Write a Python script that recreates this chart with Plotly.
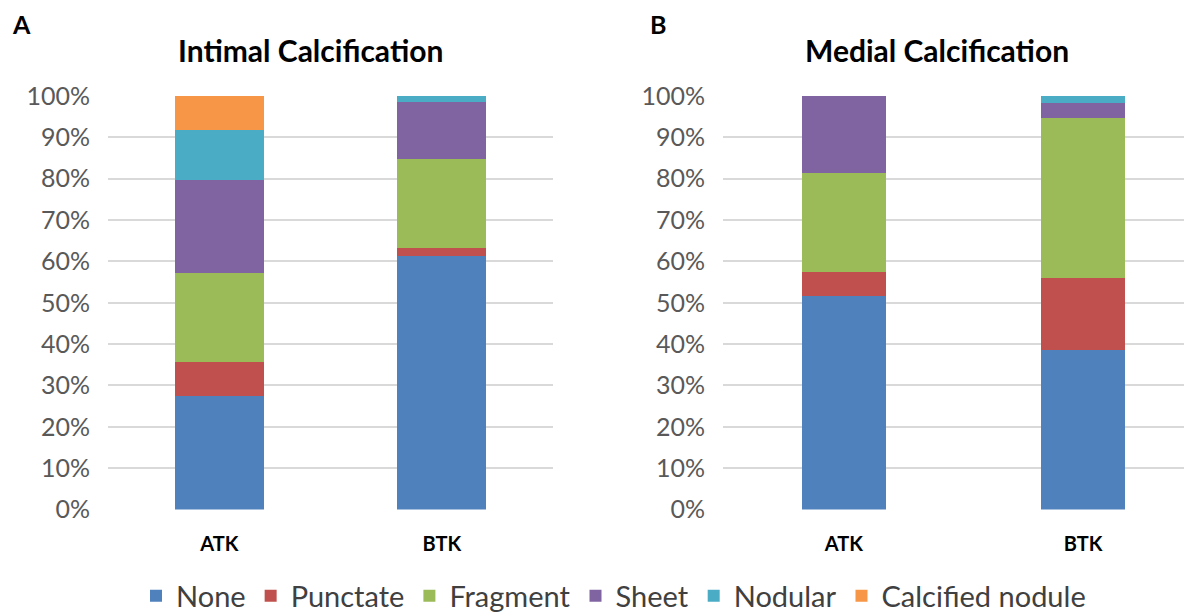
import plotly.graph_objects as go

categories = ["ATK", "BTK"]
series_names = ["None", "Punctate", "Fragment", "Sheet", "Nodular", "Calcified nodule"]
colors = ["#4F81BD", "#C0504D", "#9BBB59", "#8064A2", "#4BACC6", "#F79646"]

# Intimal calcification (% of segments), ATK then BTK
intimal_none = [27.5, 61.3]
intimal_punctate = [8.2, 1.9]
intimal_fragment = [21.5, 21.6]
intimal_sheet = [22.5, 13.8]
intimal_nodular = [12.1, 1.4]
intimal_calcified = [8.2, 0.0]

# Medial calcification
medial_none = [51.6, 38.6]
medial_punctate = [5.9, 17.5]
medial_fragment = [23.8, 38.7]
medial_sheet = [18.7, 3.4]
medial_nodular = [0.0, 1.8]
medial_calcified = [0.0, 0.0]

intimal = [intimal_none, intimal_punctate, intimal_fragment, intimal_sheet, intimal_nodular, intimal_calcified]
medial = [medial_none, medial_punctate, medial_fragment, medial_sheet, medial_nodular, medial_calcified]

tick_vals = [0, 10, 20, 30, 40, 50, 60, 70, 80, 90, 100]
tick_text = [f"{v}%" for v in tick_vals]

# page body has an 8px margin; size the figure to fit the window
OFF = 8
W, H = 1192 - OFF, 614 - OFF
FONT = "Lato"


def px(x):
    return (x - OFF) / W


def py(y):
    return 1 - (y - OFF) / H


fig = go.Figure()
for name, col, vals in zip(series_names, colors, intimal):
    fig.add_trace(go.Bar(x=categories, y=vals, name=name, marker_color=col,
                         marker_line_width=0, width=0.4, xaxis="x", yaxis="y",
                         showlegend=True))
for name, col, vals in zip(series_names, colors, medial):
    fig.add_trace(go.Bar(x=categories, y=vals, name=name, marker_color=col,
                         marker_line_width=0, width=0.352, xaxis="x2", yaxis="y2",
                         showlegend=False))

yaxis_common = dict(range=[0, 100], tickvals=tick_vals, ticktext=tick_text,
                    showgrid=True, gridcolor="#D9D9D9", gridwidth=2,
                    zeroline=False, showline=False, ticks="",
                    tickfont=dict(family=FONT, size=25, color="#595959"),
                    ticklabelstandoff=17, domain=[py(509.5), py(96)], fixedrange=True,
                    automargin=False)
xaxis_common = dict(showgrid=False, zeroline=False, showline=False, ticks="",
                    tickfont=dict(family=FONT, size=20, color="#000000", weight="bold"),
                    ticklabelstandoff=20, fixedrange=True, automargin=False)

fig.update_layout(
    width=W, height=H,
    margin=dict(l=0, r=0, t=0, b=0, autoexpand=False),
    paper_bgcolor="white", plot_bgcolor="white",
    barmode="stack",
    xaxis=dict(domain=[px(108), px(553)], range=[-0.5, 1.5], **xaxis_common),
    yaxis=dict(anchor="x", **yaxis_common),
    xaxis2=dict(domain=[px(723), 1.0], range=[-0.506, 1.456], anchor="y2", **xaxis_common),
    yaxis2=dict(anchor="x2", **yaxis_common),
    legend=dict(orientation="h", x=px(136), xanchor="left", y=py(596), yanchor="middle",
                font=dict(family=FONT, size=29, color="#404040"),
                itemwidth=30, traceorder="normal", bgcolor="rgba(0,0,0,0)"),
    annotations=[
        dict(text="<b>Intimal Calcification</b>", x=px(310), y=py(50), xref="paper", yref="paper",
             showarrow=False, font=dict(family=FONT, size=30, color="#000000"), xanchor="center", yanchor="middle"),
        dict(text="<b>Medial Calcification</b>", x=px(937), y=py(50), xref="paper", yref="paper",
             showarrow=False, font=dict(family=FONT, size=30, color="#000000"), xanchor="center", yanchor="middle"),
        dict(text="<b>A</b>", x=px(10), y=py(24), xref="paper", yref="paper",
             showarrow=False, font=dict(family=FONT, size=25, color="#000000"), xanchor="left", yanchor="middle"),
        dict(text="<b>B</b>", x=px(648), y=py(24), xref="paper", yref="paper",
             showarrow=False, font=dict(family=FONT, size=25, color="#000000"), xanchor="left", yanchor="middle"),
    ],
)

fig.write_html("out.html")
